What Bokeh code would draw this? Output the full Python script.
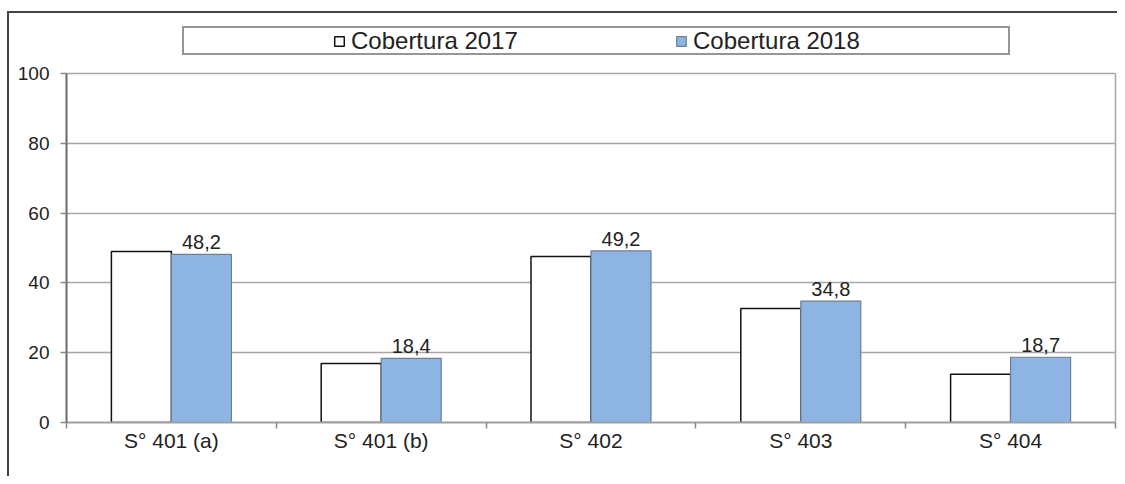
from bokeh.plotting import figure
from bokeh.models import (ColumnDataSource, FixedTicker, LabelSet, Legend, LegendItem,
                          Range1d, LinearAxis, InlineStyleSheet)
from bokeh.core.properties import value
from bokeh.embed import file_html
from bokeh.resources import INLINE

categories = ["S° 401 (a)", "S° 401 (b)", "S° 402", "S° 403", "S° 404"]
cobertura_2017 = [49.0, 16.9, 47.6, 32.7, 13.8]
cobertura_2018 = [48.2, 18.4, 49.2, 34.8, 18.7]
y_ticks = [0, 20, 40, 60, 80, 100]
series_names = ["Cobertura 2017", "Cobertura 2018"]

FONT = "Liberation Sans"
n = len(categories)
centers = [i + 0.5 for i in range(n)]
bar_w = 0.286

# layout (pixels): frame spans from y=14 to y=422; value 100 sits at y=73
FRAME_TOP, AXIS_TOP, AXIS_BOTTOM = 14, 73, 422
y_max = y_ticks[-1]
y_end = y_max * (AXIS_BOTTOM - FRAME_TOP) / (AXIS_BOTTOM - AXIS_TOP)

src = ColumnDataSource(dict(
    cat=categories,
    x17=[c - bar_w / 2 for c in centers],
    x18=[c + bar_w / 2 for c in centers],
    v17=cobertura_2017,
    v18=cobertura_2018,
    lab18=[f"{v:.1f}".replace(".", ",") for v in cobertura_2018],
))

p = figure(width=1117, height=476, x_range=Range1d(0, n), y_range=Range1d(0, y_end),
           output_backend="svg", toolbar_location=None,
           min_border_left=66, min_border_right=2, min_border_top=FRAME_TOP,
           min_border_bottom=476 - AXIS_BOTTOM)
p.background_fill_color = "white"
p.border_fill_color = "white"
p.outline_line_color = None

# outer frame (top + left) and legend box as CSS decorations
css = """
:host::before { content: ""; position: absolute; left: 7px; top: 11px; width: 1110px; height: 465px;
  border-top: 2px solid #444444; border-left: 2px solid #444444; pointer-events: none;
  box-sizing: border-box; z-index: 10; }
:host::after { content: ""; position: absolute; left: 182px; top: 26px; width: 828px; height: 29px;
  border: 2px solid #969696; pointer-events: none; box-sizing: border-box; z-index: 10; }
"""
p.stylesheets = [InlineStyleSheet(css=css)]

# grid
p.xgrid.visible = False
p.ygrid.ticker = FixedTicker(ticks=y_ticks)
p.ygrid.grid_line_color = "#a6a6a6"
p.ygrid.grid_line_width = 1.5

# y axis
p.yaxis.ticker = FixedTicker(ticks=y_ticks, minor_ticks=[])
p.yaxis.bounds = (0, y_max)
p.yaxis.axis_line_color = "#6b6b6b"
p.yaxis.axis_line_width = 2
p.yaxis.major_tick_out = 6
p.yaxis.major_tick_in = 0
p.yaxis.major_tick_line_color = "#888888"
p.yaxis.major_tick_line_width = 1.5
p.yaxis.minor_tick_line_color = None
p.yaxis.major_label_standoff = 11
p.yaxis.major_label_text_font = FONT
p.yaxis.major_label_text_font_size = "19px"
p.yaxis.major_label_text_color = "#222222"

# right border of the plot area
right_axis = LinearAxis(ticker=FixedTicker(ticks=[]), bounds=(0, y_max),
                        axis_line_color="#a6a6a6", axis_line_width=1.5,
                        major_tick_line_color=None, minor_tick_line_color=None,
                        major_tick_out=0, major_label_standoff=0,
                        major_label_text_font_size="0px")
p.add_layout(right_axis, "right")

# x axis
p.xaxis.ticker = FixedTicker(ticks=centers, minor_ticks=list(range(n + 1)))
p.xaxis.major_label_overrides = {c: cat for c, cat in zip(centers, categories)}
p.xaxis.axis_line_color = "#a0a0a0"
p.xaxis.axis_line_width = 2
p.xaxis.major_tick_line_color = None
p.xaxis.major_tick_out = 0
p.xaxis.major_tick_in = 0
p.xaxis.minor_tick_out = 6
p.xaxis.minor_tick_in = 0
p.xaxis.minor_tick_line_color = "#888888"
p.xaxis.minor_tick_line_width = 1.5
p.xaxis.major_label_standoff = 0
p.xaxis.major_label_text_font = FONT
p.xaxis.major_label_text_font_size = "21px"
p.xaxis.major_label_text_color = "#222222"

r17 = p.vbar(x="x17", top="v17", bottom=0, width=bar_w, source=src,
             fill_color="white", line_color="#111111", line_width=1.5)
r18 = p.vbar(x="x18", top="v18", bottom=0, width=bar_w, source=src,
             fill_color="#8EB4E3", line_color="#6d7f96", line_width=1.2)

labels = LabelSet(x="x18", y="v18", text="lab18", source=src, text_align="center",
                  text_baseline="bottom", y_offset=5, text_font=value(FONT),
                  text_font_size="20px", text_color="#222222")
p.add_layout(labels)

for r, name, xloc in [(r17, series_names[0], 267), (r18, series_names[1], 609)]:
    lg = Legend(items=[LegendItem(label=name, renderers=[r])], location=(xloc, 367),
                orientation="horizontal", padding=0, margin=0, spacing=0,
                glyph_width=12, glyph_height=12, label_standoff=6,
                label_text_font=FONT, label_text_font_size="24px", label_text_color="#222222",
                border_line_color=None, background_fill_alpha=0)
    p.add_layout(lg)

open("out.html", "w").write(file_html(p, INLINE))
